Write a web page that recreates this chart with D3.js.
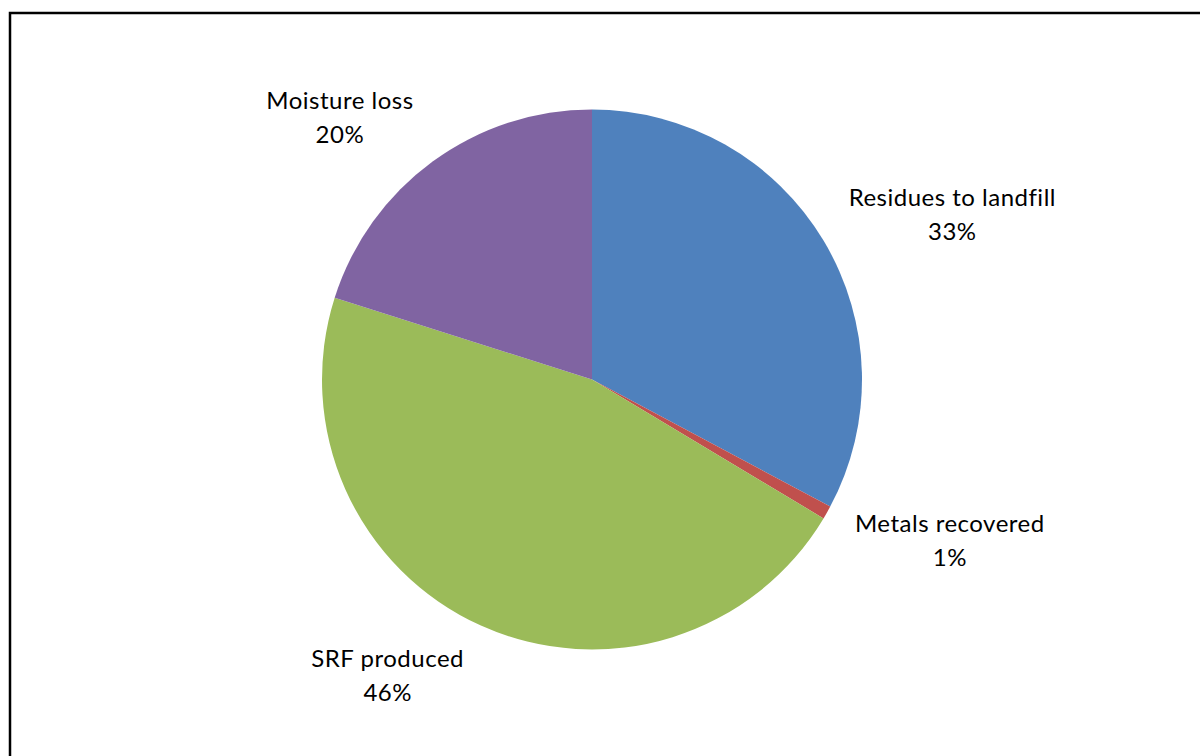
<!DOCTYPE html>
<html>
<head>
  <meta charset="utf-8" />
  <title>Mass balance pie</title>
  <script src="https://cdn.jsdelivr.net/npm/d3@7"></script>
  <style>
    html, body { margin: 0; padding: 0; background: #fff; }
    svg { display: block; }
    .lbl { font-family: Lato, "Open Sans", sans-serif; font-size: 24px; letter-spacing: 0.5px; fill: #000; }
  </style>
</head>
<body>
  <svg id="chart" width="1200" height="756"></svg>
  <script>
    // data
    var categories = ["Residues to landfill", "Metals recovered", "SRF produced", "Moisture loss"];
    var values = [32.8, 0.8, 46.3, 20.1];
    var colors = ["#4F81BD", "#C0504D", "#9BBB59", "#8064A2"];

    // small hand nudges for the label boxes (layout only)
    var labelNudge = [[9, 8], [9, -6], [-47, -13], [-28, 9]];

    var cx = 592, cy = 379.5, radius = 270;

    var svg = d3.select('#chart');

    // chart frame
    svg.append('rect')
      .attr('x', 10).attr('y', 13)
      .attr('width', 1200).attr('height', 800)
      .attr('fill', 'none')
      .attr('stroke', '#000')
      .attr('stroke-width', 2.5);

    var pie = d3.pie().sort(null).value(function(d) { return d; });
    var arcs = pie(values);
    var arc = d3.arc().innerRadius(0).outerRadius(radius);

    var g = svg.append('g').attr('transform', 'translate(' + cx + ',' + cy + ')');

    g.selectAll('path.slice')
      .data(arcs)
      .enter().append('path')
      .attr('class', 'slice')
      .attr('d', arc)
      .attr('fill', function(d, i) { return colors[i]; });

    var total = d3.sum(values);
    var fmt = function(v) { return Math.round(v / total * 100) + '%'; };

    // outside-end labels: box sits outside a point just beyond the rim
    var gap = 36, lineH = 34;
    arcs.forEach(function(a, i) {
      var mid = (a.startAngle + a.endAngle) / 2;
      var s = Math.sin(mid), c = Math.cos(mid);
      var ax = (radius + gap) * s, ay = -(radius + gap) * c;

      var t = g.append('text').attr('class', 'lbl').attr('text-anchor', 'middle');
      t.append('tspan').attr('x', 0).attr('dy', 0).text(categories[i]);
      t.append('tspan').attr('x', 0).attr('dy', lineH).text(fmt(values[i]));

      var bb = t.node().getBBox();
      var bx = ax + s * bb.width / 2 + labelNudge[i][0];
      var by = ay - c * bb.height / 2 + labelNudge[i][1];
      var ox = bx - (bb.x + bb.width / 2);
      var oy = by - (bb.y + bb.height / 2);
      t.attr('transform', 'translate(' + ox + ',' + oy + ')');
    });
  </script>
</body>
</html>
